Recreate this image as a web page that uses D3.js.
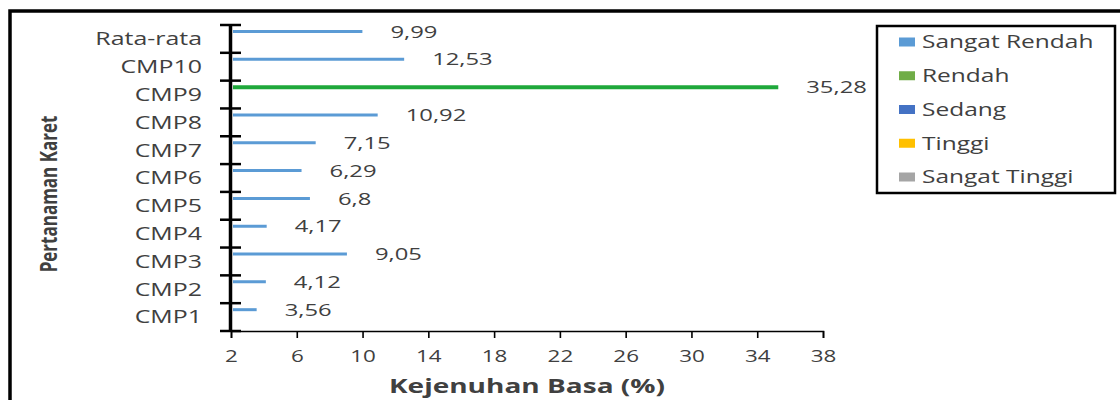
<!DOCTYPE html>
<html>
<head>
<meta charset="utf-8">
<script src="https://cdn.jsdelivr.net/npm/d3@7"></script>
<style>
  html, body { margin: 0; padding: 0; background: #fff; }
  svg { display: block; }
  text { font-family: "Open Sans", "Noto Sans", sans-serif; fill: #404040; }
</style>
</head>
<body>
<svg id="chart" width="1120" height="400"></svg>
<script>
// Kejenuhan basa per lokasi pertanaman karet
const categories = ["Rata-rata", "CMP10", "CMP9", "CMP8", "CMP7", "CMP6", "CMP5", "CMP4", "CMP3", "CMP2", "CMP1"];
const values     = [9.99, 12.53, 35.28, 10.92, 7.15, 6.29, 6.8, 4.17, 9.05, 4.12, 3.56];
const valueText  = ["9,99", "12,53", "35,28", "10,92", "7,15", "6,29", "6,8", "4,17", "9,05", "4,12", "3,56"];
const classes    = ["Sangat Rendah", "Sangat Rendah", "Rendah", "Sangat Rendah", "Sangat Rendah", "Sangat Rendah",
                    "Sangat Rendah", "Sangat Rendah", "Sangat Rendah", "Sangat Rendah", "Sangat Rendah"];
const legendNames  = ["Sangat Rendah", "Rendah", "Sedang", "Tinggi", "Sangat Tinggi"];
const legendColors = ["#5b9bd5", "#70ad47", "#4472c4", "#ffc000", "#a5a5a5"];
const barColors    = ["#5b9bd5", "#1fa83b", "#4472c4", "#ffc000", "#a5a5a5"];
const xTicks = [2, 6, 10, 14, 18, 22, 26, 30, 34, 38];

const SX = 1.4; // horizontal text stretch
const svg = d3.select("#chart");

// outer frame (open to the right and bottom)
svg.append("rect")
  .attr("x", 10).attr("y", 11)
  .attr("width", 1200).attr("height", 500)
  .attr("fill", "none").attr("stroke", "#000").attr("stroke-width", 3.5);

const x = d3.scaleLinear().domain([2, 38]).range([231, 823]);
const y = d3.scaleBand().domain(categories).range([25, 331]).paddingInner(0).paddingOuter(0);

// x axis
const xAxis = svg.append("g")
  .attr("transform", `translate(0,${331})`)
  .call(d3.axisBottom(x).tickValues(xTicks).tickSize(7).tickPadding(13).tickFormat(d3.format("d")));
xAxis.select(".domain").attr("stroke", "#000").attr("stroke-width", 1.6);
xAxis.selectAll(".tick line").attr("stroke", "#000").attr("stroke-width", 1.6);
xAxis.selectAll(".tick text")
  .attr("transform", `scale(${SX},1)`)
  .style("font-size", "16px").style("font-family", '"Open Sans", sans-serif').attr("fill", "#404040");

// bars
const colorOf = c => barColors[legendNames.indexOf(c)];
svg.append("g").selectAll("line")
  .data(categories)
  .join("line")
  .attr("x1", x(2) + 2)
  .attr("x2", (d, i) => x(values[i]))
  .attr("y1", d => y(d) + 6.5)
  .attr("y2", d => y(d) + 6.5)
  .attr("stroke", (d, i) => colorOf(classes[i]))
  .attr("stroke-width", (d, i) => classes[i] === "Rendah" ? 4 : 3);

// value labels
svg.append("g").selectAll("text")
  .data(categories)
  .join("text")
  .attr("transform", (d, i) => `translate(${x(values[i]) + 28},${y(d) + 6.5}) scale(${SX},1)`)
  .attr("dy", "0.36em")
  .style("font-size", "17px")
  .text((d, i) => valueText[i]);

// y axis: thick line with boundary ticks
const yAxis = svg.append("g");
yAxis.append("line")
  .attr("x1", 230.5).attr("x2", 230.5)
  .attr("y1", y.range()[0]).attr("y2", y.range()[1])
  .attr("stroke", "#000").attr("stroke-width", 3.5);
const bounds = categories.map(c => y(c)).concat([y.range()[1]]);
yAxis.selectAll("line.tk")
  .data(bounds)
  .join("line")
  .attr("class", "tk")
  .attr("x1", 220).attr("x2", 241)
  .attr("y1", d => d).attr("y2", d => d)
  .attr("stroke", "#000").attr("stroke-width", 2.5);

// category labels
svg.append("g").selectAll("text")
  .data(categories)
  .join("text")
  .attr("transform", d => `translate(202,${y(d) + y.bandwidth() / 2}) scale(${SX},1)`)
  .attr("dy", "0.36em")
  .attr("text-anchor", "end")
  .style("font-size", "17.8px")
  .text(d => d);

// axis titles
svg.append("text")
  .attr("transform", `translate(${x(20)},386) scale(${SX},1)`)
  .attr("dy", "0.36em")
  .attr("text-anchor", "middle")
  .style("font-size", "20px").style("font-weight", "bold").attr("fill", "#1a1a1a")
  .text("Kejenuhan Basa (%)");

svg.append("text")
  .attr("transform", `translate(48,194) scale(${SX},1) rotate(-90)`)
  .attr("dy", "0.36em")
  .attr("text-anchor", "middle")
  .style("font-size", "17px").style("font-weight", "bold").attr("fill", "#000")
  .text("Pertanaman Karet");

// legend
const lg = svg.append("g");
lg.append("rect")
  .attr("x", 877).attr("y", 26).attr("width", 238).attr("height", 167)
  .attr("fill", "#fff").attr("stroke", "#000").attr("stroke-width", 2.5);
const ly = d3.scalePoint().domain(legendNames).range([42, 177]);
const items = lg.selectAll("g.item").data(legendNames).join("g").attr("class", "item");
items.append("rect")
  .attr("x", 899).attr("y", d => ly(d) - 4.5)
  .attr("width", 16).attr("height", 9)
  .attr("fill", (d, i) => legendColors[i]);
items.append("text")
  .attr("transform", d => `translate(922,${ly(d)}) scale(${SX},1)`)
  .attr("dy", "0.36em")
  .style("font-size", "17.5px")
  .text(d => d);
</script>
</body>
</html>
